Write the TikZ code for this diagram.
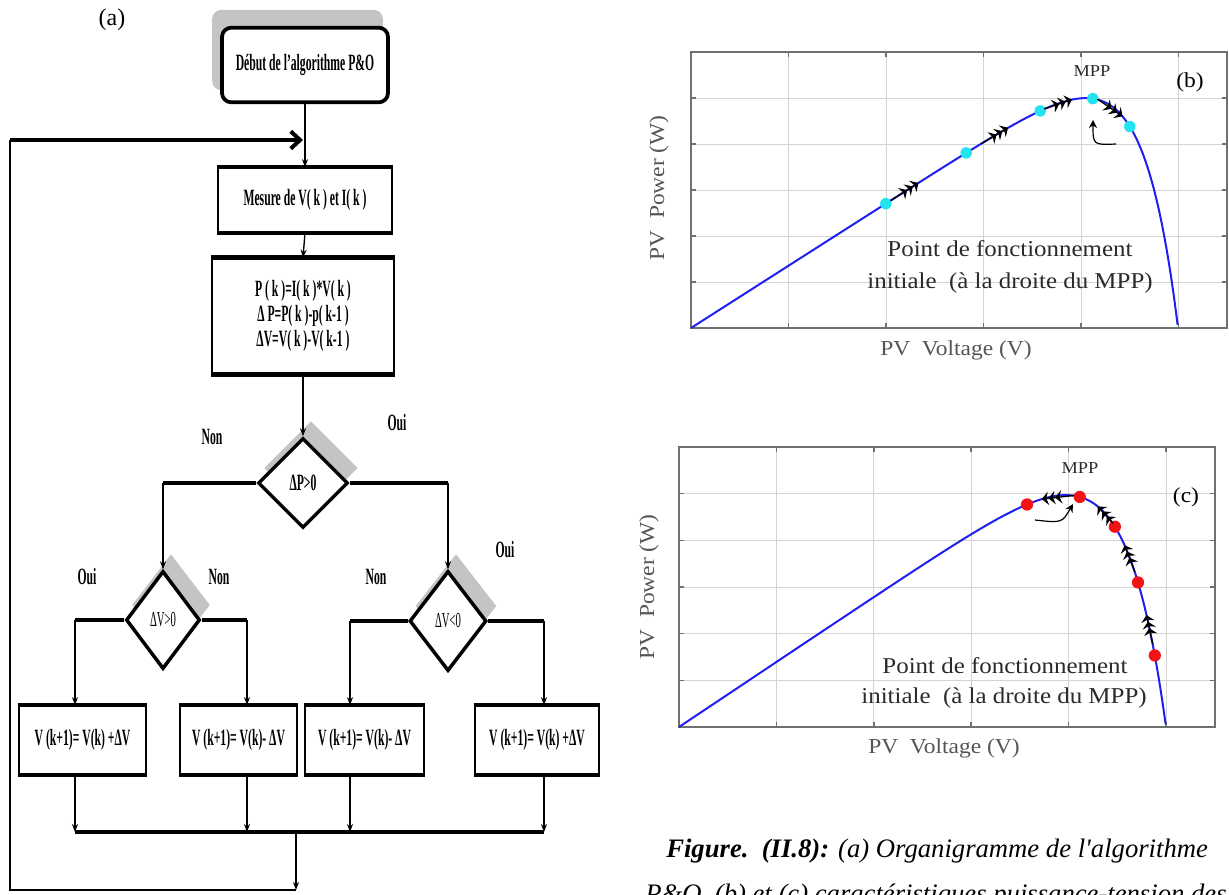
\documentclass[tikz,border=0pt]{standalone}
\usepackage{fontspec}
\setmainfont{Liberation Serif}
\newfontfamily\condfont[FakeStretch=0.5]{Liberation Serif}
\newfontfamily\plotfont[FakeStretch=1.1]{Liberation Serif}
\usetikzlibrary{shapes.geometric,arrows.meta,calc}
\pgfdeclarelayer{bg}
\pgfsetlayers{bg,main}
\definecolor{shadowc}{HTML}{C4C4C4}
\definecolor{gridc}{HTML}{D4D4D4}
\definecolor{framec}{HTML}{707070}
\definecolor{curvec}{HTML}{1F1FF0}
\definecolor{cyandot}{HTML}{22E4EE}
\definecolor{reddot}{HTML}{F21414}
\definecolor{axlab}{HTML}{555555}
\definecolor{annot}{HTML}{2A2A2A}
\begin{document}
\begin{tikzpicture}[x=0.75pt,y=-0.75pt,
  declare function={pvb(\v)=\v*(1-exp((\v-1)/0.078)); pvc(\v)=\v*(1-exp((\v-1)/0.09));},
  ffont/.style={font=\condfont\bfseries\fontsize{17.5}{19}\selectfont},
  procbox/.style={draw, rectangle, line width=1.3pt, fill=white, align=center, inner sep=1pt, ffont},
  startbox/.style={draw, rectangle, rounded corners=7pt, line width=2.8pt, fill=white, inner sep=1pt, ffont},
  decision/.style={draw, diamond, line width=2.6pt, fill=white, inner sep=0pt, ffont},
  branchlabel/.style={ffont, inner sep=0pt},
  flowarrow/.style={line width=1pt, -{Stealth[length=6pt,width=4.5pt]}},
  busline/.style={line width=3pt},
  gridline/.style={gridc, line width=0.6pt},
  frameline/.style={framec, line width=1.1pt},
  pvcurve/.style={curvec, line width=1.5pt},
  chev/.style={black, line width=1pt, shorten <=-1pt,
    -{Stealth[length=5pt,width=10pt,inset=1.6pt]Stealth[length=5pt,width=10pt,inset=1.6pt]Stealth[length=5pt,width=10pt,inset=1.6pt]}},
  bendarrow/.style={black, line width=0.9pt, -{Stealth[length=6pt,width=6pt]}},
  plotlab/.style={text=axlab, font=\plotfont\fontsize{16}{18}\selectfont, inner sep=0pt},
  annotext/.style={text=annot, font=\plotfont\fontsize{17}{20}\selectfont, inner sep=0pt},
  mpplab/.style={text=annot, font=\plotfont\fontsize{12.5}{14}\selectfont, inner sep=0pt},
  panel/.style={text=black, font=\plotfont\fontsize{16}{18}\selectfont, inner sep=0pt}]

\path[use as bounding box] (0,0) rectangle (1229,895);
\clip (0,0) rectangle (1229,895);

% ---------------- flowchart (a) ----------------
\node[font=\fontsize{18}{20}\selectfont, inner sep=0pt] (la) at (112,20) {(a)};

\node[startbox, minimum width=124.5pt, minimum height=56pt] (start) at (305,65) {Début de l’algorithme P\&O};
\node[procbox, minimum width=130.5pt, minimum height=48pt] (mesure) at (305,200) {Mesure de V( k ) et I( k )};
\node[procbox, minimum width=136.5pt, minimum height=86.25pt] (calc) at (303,316)
  {P ( k )=I( k )*V( k )\\Δ P=P( k )-p( k-1 )\\ΔV=V( k )-V( k-1 )};
\node[decision, minimum width=67.5pt, minimum height=67.5pt] (dP) at (303,483) {ΔP>0};
\node[decision, minimum width=55.5pt, minimum height=73.5pt, font=\condfont\fontsize{16}{18}\selectfont] (dV1) at (163,620) {ΔV>0};
\node[decision, minimum width=57.75pt, minimum height=75pt, font=\condfont\fontsize{16}{18}\selectfont] (dV2) at (448,621) {ΔV<0};
\node[procbox, minimum width=95.25pt, minimum height=51pt] (B1) at (82.5,740) {V (k+1)= V(k) +ΔV};
\node[procbox, minimum width=87.75pt, minimum height=51pt] (B2) at (238.5,740) {V (k+1)= V(k)- ΔV};
\node[procbox, minimum width=89.25pt, minimum height=51pt] (B3) at (364.5,740) {V (k+1)= V(k)- ΔV};
\node[procbox, minimum width=93pt, minimum height=51pt] (B4) at (537,740) {V (k+1)= V(k) +ΔV};

% heavy top and bottom rules of the process boxes
\foreach \n in {mesure,calc,B1,B2,B3,B4}{
  \draw[line width=3.5pt] (\n.north west) -- (\n.north east);
  \draw[line width=3.5pt] (\n.south west) -- (\n.south east);
}

% grey drop shadows
\begin{pgfonlayer}{bg}
  \fill[shadowc, rounded corners=7pt] ($(start.south west)+(-8,-14)$) rectangle ($(start.north east)+(-7,-16)$);
  \foreach \n in {dP,dV1,dV2}
    \fill[shadowc] ($(\n.north)+(8,-15)$) -- ($(\n.east)+(8,-15)$) -- ($(\n.south)+(8,-15)$) -- ($(\n.west)+(8,-15)$) -- cycle;
\end{pgfonlayer}

% branch labels
\node[branchlabel] (n1) at (212,437) {Non};
\node[branchlabel] (o1) at (397,423) {Oui};
\node[branchlabel] (o2) at (87,577) {Oui};
\node[branchlabel] (n2) at (219,577) {Non};
\node[branchlabel] (n3) at (376,577) {Non};
\node[branchlabel] (o3) at (505,550) {Oui};

% helper points of the loop and of the columns
\coordinate (tj) at (303,140);
\coordinate (tl) at (10,140);
\coordinate (bl) at (10,890);
\coordinate (br) at (296,890);
\coordinate (mj) at (296,832);
\coordinate (c1) at (75,0);
\coordinate (c2) at (247,0);
\coordinate (c3) at (350,0);
\coordinate (c4) at (544,0);

\draw[flowarrow] (start.south) -- (mesure.north);
\draw[flowarrow] (mesure.south) -- (calc.north);
\draw[flowarrow] (calc.south) -- (dP.north);

\draw[busline] (dP.west) -- (dP.west -| dV1.north);
\draw[flowarrow] (dP.west -| dV1.north) -- (dV1.north);
\draw[busline] (dP.east) -- (dP.east -| dV2.north);
\draw[flowarrow] (dP.east -| dV2.north) -- (dV2.north);

\draw[busline] (dV1.west) -- (dV1.west -| c1);
\draw[flowarrow] (dV1.west -| c1) -- (B1.north -| c1);
\draw[busline] (dV1.east) -- (dV1.east -| c2);
\draw[flowarrow] (dV1.east -| c2) -- (B2.north -| c2);
\draw[busline] (dV2.west) -- (dV2.west -| c3);
\draw[flowarrow] (dV2.west -| c3) -- (B3.north -| c3);
\draw[busline] (dV2.east) -- (dV2.east -| c4);
\draw[flowarrow] (dV2.east -| c4) -- (B4.north -| c4);

\draw[busline] (mj -| c1) -- (mj -| c4);
\foreach \b/\c in {B1/c1,B2/c2,B3/c3,B4/c4}
  \draw[flowarrow] (\b.south -| \c) -- (mj -| \c);
\draw[flowarrow] (mj) -- (br);
\draw[line width=2pt] (br) -- (bl) -- (tl);
\draw[line width=3pt, -{Straight Barb[length=7pt,width=13pt]}] (tl) -- (tj);

% ---------------- P-V curve (b) ----------------
\foreach \gx in {788.5,886,983.5,1081,1178.5}{
  \draw[gridline] (\gx,52) -- (\gx,328);
  \draw[frameline] (\gx,328) -- (\gx,323);
  \draw[frameline] (\gx,52) -- (\gx,57);
}
\foreach \gy in {98,144,190,236,282}{
  \draw[gridline] (691,\gy) -- (1227,\gy);
  \draw[frameline] (691,\gy) -- (696,\gy);
  \draw[frameline] (1227,\gy) -- (1222,\gy);
}
\draw[frameline] (691,52) rectangle (1227,328);
\draw[pvcurve] plot[domain=0:1, samples=300] ({691+487*\x},{328-311*pvb(\x)});
\foreach \v in {0.4,0.565,0.717,0.825,0.901}
  \fill[cyandot] ({691+487*\v},{328-311*pvb(\v)}) circle (4.3pt);
\foreach \a/\b in {0.412/0.467,0.598/0.651,0.728/0.782,0.837/0.886}
  \draw[chev] ({691+487*\a},{328-311*pvb(\a)}) -- ({691+487*\b},{328-311*pvb(\b)});
\draw[bendarrow] (1116,144) .. controls (1093,145) .. (1093,120);
\node[plotlab, rotate=90] (yb) at (659,188) {PV\ \ Power (W)};
\node[plotlab, anchor=base] (xb) at (956,355) {PV\ \ Voltage (V)};
\node[annotext, anchor=base] (tb1) at (1010,257) {Point de fonctionnement};
\node[annotext, anchor=base] (tb2) at (1010,288) {initiale\ \ (à la droite du MPP)};
\node[mpplab, anchor=base] (mb) at (1092,77) {MPP};
\node[panel, anchor=base] (pb) at (1190,88) {(b)};

% ---------------- P-V curve (c) ----------------
\foreach \gx in {776.4,873.8,971.2,1068.6,1166}{
  \draw[gridline] (\gx,447) -- (\gx,727);
  \draw[frameline] (\gx,727) -- (\gx,722);
  \draw[frameline] (\gx,447) -- (\gx,452);
}
\foreach \gy in {493.7,540.3,587,633.7,680.3}{
  \draw[gridline] (679,\gy) -- (1215,\gy);
  \draw[frameline] (679,\gy) -- (684,\gy);
  \draw[frameline] (1215,\gy) -- (1210,\gy);
}
\draw[frameline] (679,447) rectangle (1215,727);
\draw[pvcurve] plot[domain=0:1, samples=300] ({679+487*\x},{727-325*pvc(\x)});
\foreach \v in {0.7146,0.823,0.895,0.9425,0.977}
  \fill[reddot] ({679+487*\v},{727-325*pvc(\v)}) circle (4.6pt);
\foreach \a/\b in {0.809/0.745,0.889/0.860,0.935/0.915,0.972/0.960}
  \draw[chev] ({679+487*\a},{727-325*pvc(\a)}) -- ({679+487*\b},{727-325*pvc(\b)});
\draw[bendarrow] (1035,520) .. controls (1062,523) .. (1073,504);
\node[plotlab, rotate=90] (yc) at (649,587) {PV\ \ Power (W)};
\node[plotlab, anchor=base] (xc) at (944,753) {PV\ \ Voltage (V)};
\node[annotext, anchor=base] (tc1) at (1005,673) {Point de fonctionnement};
\node[annotext, anchor=base] (tc2) at (1004,703) {initiale\ \ (à la droite du MPP)};
\node[mpplab, anchor=base] (mc) at (1080,473) {MPP};
\node[panel, anchor=base] (pc) at (1186,502) {(c)};

% ---------------- caption ----------------
\node[anchor=base west, inner sep=0pt, font=\itshape\fontsize{20}{24}\selectfont] (cap1) at (666,857)
  {\textbf{Figure.\ \ (II.8):} (a) Organigramme de l\textquotesingle algorithme};
\node[anchor=base west, inner sep=0pt, font=\itshape\fontsize{20}{24}\selectfont] (cap2) at (645,902)
  {P\&O. (b) et (c) caractéristiques puissance-tension des};
\end{tikzpicture}
\end{document}
